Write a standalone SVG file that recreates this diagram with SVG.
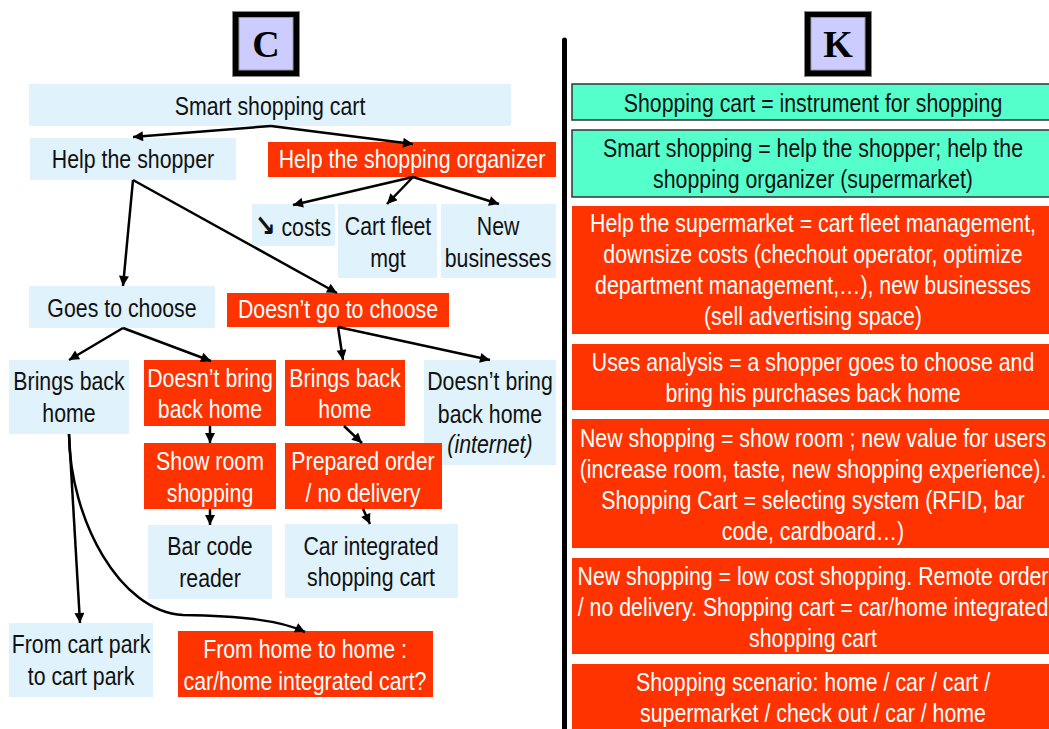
<svg xmlns="http://www.w3.org/2000/svg" width="1049" height="729" viewBox="0 0 1049 729">
<style>
.t{font-family:"Liberation Sans",Arial,sans-serif;font-size:26px;text-anchor:middle;transform-box:fill-box;transform-origin:center;transform:scaleX(0.82)}
.k{fill:#111}
.w{fill:#fff}
.it{font-style:italic}
.b{fill:#E0F2FC}
.r{fill:#FF3300}
.g{fill:#55FFCC;stroke:#333;stroke-width:1.5}
.lt{font-family:"Liberation Serif","Times New Roman",serif;font-weight:bold;font-size:38px;text-anchor:middle;fill:#000}
.c{stroke:#000;stroke-width:2.5;fill:none;marker-end:url(#ah)}
</style>
<defs>
<marker id="ah" viewBox="0 0 10 10" refX="10" refY="5" markerWidth="11" markerHeight="10" markerUnits="userSpaceOnUse" orient="auto"><path d="M0,0 L10,5 L0,10 z" fill="#000"/></marker>
</defs>
<rect width="1049" height="729" fill="#fff"/>

<g id="label-C">
<rect x="232.5" y="11.5" width="67" height="65" fill="#000" stroke="#888" stroke-width="1"/>
<rect x="239" y="17.5" width="54" height="52.5" fill="#CCCCFF" stroke="#999" stroke-width="1"/>
<text class="lt" x="266" y="57">C</text>
</g>
<g id="label-K">
<rect x="804.5" y="11.5" width="67" height="65" fill="#000" stroke="#888" stroke-width="1"/>
<rect x="811" y="17.5" width="54" height="52.5" fill="#CCCCFF" stroke="#999" stroke-width="1"/>
<text class="lt" x="838" y="57">K</text>
</g>
<line id="divider" x1="564.5" y1="40" x2="564.5" y2="740" stroke="#000" stroke-width="5" stroke-linecap="round"/>

<g id="n-smart"><rect class="b" x="29" y="84" width="482" height="42"/><text class="t k" x="270" y="115">Smart shopping cart</text></g>
<g id="n-shopper"><rect class="b" x="30" y="138" width="206" height="42"/><text class="t k" x="133" y="168">Help the shopper</text></g>
<g id="n-organizer"><rect class="r" x="268" y="142" width="288" height="35"/><text class="t w" x="412" y="168">Help the shopping organizer</text></g>
<g id="n-costs"><rect class="b" x="252" y="204" width="83" height="42"/><text class="t k" x="293" y="236"><tspan style="font-family:'DejaVu Sans',sans-serif;font-weight:bold;font-size:30px">↘</tspan> costs</text></g>
<g id="n-fleet"><rect class="b" x="338" y="204" width="99" height="74"/><text class="t k" x="388" y="235">Cart fleet</text><text class="t k" x="388" y="267">mgt</text></g>
<g id="n-newbiz"><rect class="b" x="441" y="204" width="115" height="74"/><text class="t k" x="498" y="235">New</text><text class="t k" x="498" y="267">businesses</text></g>
<g id="n-goes"><rect class="b" x="29" y="286" width="186" height="42"/><text class="t k" x="122" y="317">Goes to choose</text></g>
<g id="n-notgo"><rect class="r" x="227" y="293" width="222" height="34"/><text class="t w" x="338" y="318">Doesn’t go to choose</text></g>
<g id="n-bring1"><rect class="b" x="9" y="360" width="120" height="74"/><text class="t k" x="69" y="390">Brings back</text><text class="t k" x="69" y="422">home</text></g>
<g id="n-notbring1"><rect class="r" x="144" y="360" width="132" height="66"/><text class="t w" x="210" y="387">Doesn’t bring</text><text class="t w" x="210" y="418">back home</text></g>
<g id="n-bring2"><rect class="r" x="285" y="360" width="120" height="66"/><text class="t w" x="345" y="387">Brings back</text><text class="t w" x="345" y="418">home</text></g>
<g id="n-notbring2"><rect class="b" x="424" y="360" width="132" height="105"/><text class="t k" x="490" y="390">Doesn’t bring</text><text class="t k" x="490" y="423">back home</text><text class="t k it" x="490" y="453">(internet)</text></g>
<g id="n-showroom"><rect class="r" x="144" y="443" width="132" height="66"/><text class="t w" x="210" y="470">Show room</text><text class="t w" x="210" y="502">shopping</text></g>
<g id="n-prepared"><rect class="r" x="285" y="443" width="157" height="66"/><text class="t w" x="363" y="470">Prepared order</text><text class="t w" x="363" y="502">/ no delivery</text></g>
<g id="n-barcode"><rect class="b" x="148" y="525" width="124" height="74"/><text class="t k" x="210" y="555">Bar code</text><text class="t k" x="210" y="587">reader</text></g>
<g id="n-carint"><rect class="b" x="285" y="524" width="173" height="74"/><text class="t k" x="371" y="555">Car integrated</text><text class="t k" x="371" y="586">shopping cart</text></g>
<g id="n-cartpark"><rect class="b" x="9" y="623" width="144" height="74"/><text class="t k" x="81" y="653">From cart park</text><text class="t k" x="81" y="685">to cart park</text></g>
<g id="n-hometohome"><rect class="r" x="178" y="631" width="255" height="66"/><text class="t w" x="305" y="658">From home to home :</text><text class="t w" x="305" y="690">car/home integrated cart?</text></g>

<g id="connectors">
<line class="c" x1="271" y1="126" x2="133" y2="137"/>
<line class="c" x1="271" y1="126" x2="413" y2="144"/>
<line class="c" x1="413" y1="177" x2="293" y2="205"/>
<line class="c" x1="413" y1="177" x2="387" y2="204"/>
<line class="c" x1="413" y1="177" x2="499" y2="204"/>
<line class="c" x1="133" y1="180" x2="123" y2="286"/>
<line class="c" x1="133" y1="180" x2="337" y2="293"/>
<line class="c" x1="123" y1="328" x2="69" y2="360"/>
<line class="c" x1="123" y1="328" x2="211" y2="361"/>
<line class="c" x1="338" y1="327" x2="343" y2="360"/>
<line class="c" x1="338" y1="327" x2="490" y2="360"/>
<line class="c" x1="210" y1="426" x2="210" y2="443"/>
<line class="c" x1="344" y1="426" x2="362" y2="443"/>
<line class="c" x1="210" y1="509" x2="210" y2="525"/>
<line class="c" x1="363" y1="509" x2="370" y2="524"/>
<line class="c" x1="69" y1="434" x2="80" y2="623"/>
<path class="c" d="M69,434 C70,520 120,612 183,615 C240,616 280,620 305,632"/>
</g>

<g id="k1"><rect class="g" x="572" y="84" width="490" height="36"/><text class="t k" x="813" y="112">Shopping cart = instrument for shopping</text></g>
<g id="k2"><rect class="g" x="572" y="130" width="490" height="67"/><text class="t k" x="813" y="157">Smart shopping = help the shopper; help the</text><text class="t k" x="813" y="188">shopping organizer (supermarket)</text></g>
<g id="k3"><rect class="r" x="572" y="206" width="490" height="128"/>
<text class="t w" x="813" y="232">Help the supermarket = cart fleet management,</text>
<text class="t w" x="813" y="263">downsize costs (chechout operator, optimize</text>
<text class="t w" x="813" y="294">department management,…), new businesses</text>
<text class="t w" x="813" y="325">(sell advertising space)</text></g>
<g id="k4"><rect class="r" x="572" y="344" width="490" height="66"/>
<text class="t w" x="813" y="371">Uses analysis = a shopper goes to choose and</text>
<text class="t w" x="813" y="402">bring his purchases back home</text></g>
<g id="k5"><rect class="r" x="572" y="419" width="490" height="129"/>
<text class="t w" x="813" y="447">New shopping = show room ; new value for users</text>
<text class="t w" x="813" y="478">(increase room, taste, new shopping experience).</text>
<text class="t w" x="813" y="509">Shopping Cart = selecting system (RFID, bar</text>
<text class="t w" x="813" y="540">code, cardboard…)</text></g>
<g id="k6"><rect class="r" x="572" y="558" width="490" height="96"/>
<text class="t w" x="813" y="585">New shopping = low cost shopping. Remote order</text>
<text class="t w" x="813" y="616">/ no delivery. Shopping cart = car/home integrated</text>
<text class="t w" x="813" y="647">shopping cart</text></g>
<g id="k7"><rect class="r" x="572" y="664" width="490" height="80"/>
<text class="t w" x="813" y="691">Shopping scenario: home / car / cart /</text>
<text class="t w" x="813" y="722">supermarket / check out / car / home</text></g>
</svg>
